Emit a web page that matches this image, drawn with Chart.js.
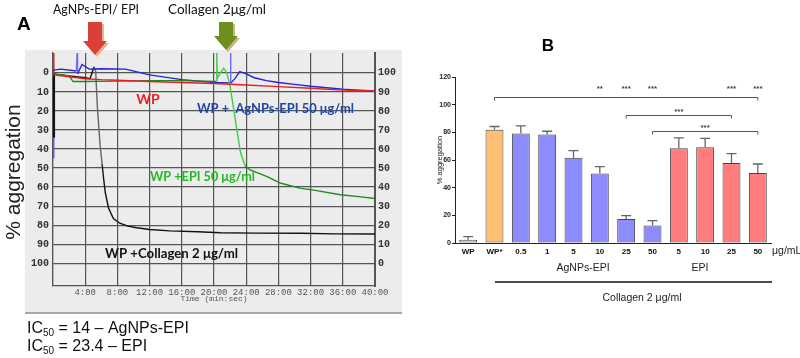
<!DOCTYPE html>
<html>
<head>
<meta charset="utf-8">
<script src="https://cdn.jsdelivr.net/npm/chart.js@4.4.1/dist/chart.umd.min.js"></script>
<style>
  body { margin: 0; width: 800px; height: 358px; background: #fff; position: relative; overflow: hidden; }
  #panelA { position: absolute; left: 25px; top: 50px; width: 377px; height: 262px; background: #ececec; border-bottom: 2px solid #a8a8a8; }
  #chartA { position: absolute; left: 0; top: 0; }
  #chartB { position: absolute; left: 420px; top: 0; }
</style>
</head>
<body>
<div id="panelA"></div>
<canvas id="chartA" width="400" height="358"></canvas>
<canvas id="chartB" width="380" height="358"></canvas>
<script>
// ---- panel A : aggregometer traces (time in min, % aggregation) ----
const wpTime = [0, 2, 4, 6, 8, 12, 16, 20, 24, 28, 32, 36, 40];
const wpAgg = [1, 2, 3, 3.5, 3.8, 4.5, 5, 5.5, 6.3, 7.2, 8, 9, 9.5];

const agTime = [0, 1, 2.9, 3.0, 3.05, 3.6, 4.5, 6, 9, 12, 16, 20, 22.0, 22.05, 22.1, 22.6, 23.2, 24, 25, 26.5, 28, 30, 32, 34, 36, 38, 40];
const agAgg = [-1.5, -2, -1, -11, 0.5, -4.5, -2, -2.2, -2, 1, 3.5, 5, 5.2, -11, 5.2, 3, -0.7, 0.5, 2.5, 4, 5, 6, 7, 7.8, 8.5, 9, 9.5];

const epiTime = [0, 1, 2, 2.5, 3, 4, 8, 12, 16, 20.3, 20.35, 20.4, 20.8, 21.2, 21.6, 22.0, 22.4, 22.9, 23.3, 23.9, 24.5, 26.6, 28.3, 30.8, 32.4, 35.7, 38, 40];
const epiAgg = [0.5, 1, 1.5, 4.5, 4.5, 4.5, 4.3, 4, 4, 4.5, -11, 3, 0, -2.5, 0, 7, 17.7, 31.6, 42, 49, 51, 54.5, 58, 60.7, 61.6, 64, 65, 66];

const colTime = [0, 2, 4, 4.6, 5.1, 5.3, 5.5, 5.85, 6.1, 6.3, 6.5, 6.9, 7.5, 8.3, 9.3, 10.4, 12, 14.5, 18, 20.8, 25, 30.8, 35, 40];
const colAgg = [0.5, 1.5, 2.5, 3, -3.3, -1, 17, 38, 48, 56, 63, 71, 76.5, 79, 80.5, 81.4, 82.3, 83, 83.5, 84, 84.2, 84.3, 84.6, 84.7];

// start-of-recording marks on the left edge
const startTime = [0.1, 0.1];
const startRed = [-11, 0];
const startBlack = [0, 34];
const startBlue = [34, 45];

const aggTicks = [0, 10, 20, 30, 40, 50, 60, 70, 80, 90, 100];

function pts(t, v) { return t.map((x, i) => ({ x: x, y: v[i] })); }

function txt(ctx, s, x, y, font, color, align, maxW) {
    ctx.save();
    ctx.font = font;
    ctx.fillStyle = color;
    ctx.textAlign = align || 'left';
    ctx.textBaseline = 'middle';
    if (maxW) ctx.fillText(s, x, y, maxW); else ctx.fillText(s, x, y);
    ctx.restore();
}

function arrow(ctx, cx, top, tip, fill, shadow) {
    const draw = (dx, dy, c) => {
        ctx.fillStyle = c;
        ctx.beginPath();
        ctx.moveTo(cx - 7 + dx, top + dy);
        ctx.lineTo(cx + 7 + dx, top + dy);
        ctx.lineTo(cx + 7 + dx, tip - 14 + dy);
        ctx.lineTo(cx + 12 + dx, tip - 14 + dy);
        ctx.lineTo(cx + dx, tip + dy);
        ctx.lineTo(cx - 12 + dx, tip - 14 + dy);
        ctx.lineTo(cx - 7 + dx, tip - 14 + dy);
        ctx.closePath();
        ctx.fill();
    };
    ctx.save();
    draw(2, 2, shadow);
    draw(0, 0, fill);
    ctx.restore();
}

const panelALabels = {
    id: 'panelALabels',
    afterDraw(chart) {
        const ctx = chart.ctx;
        txt(ctx, 'A', 17, 25, 'bold 19px "Liberation Sans"', '#000');
        txt(ctx, 'AgNPs-EPI/ EPI', 96, 9, '14px Lato', '#111', 'center', 86);
        txt(ctx, 'Collagen 2μg/ml', 217, 9, '14px Lato', '#111', 'center', 98);
        arrow(ctx, 95, 22, 55, '#d9403a', '#e9b090');
        arrow(ctx, 226, 22, 50, '#6e8e1e', '#c9b58a');

        ctx.save();
        ctx.translate(14, 172);
        ctx.rotate(-Math.PI / 2);
        txt(ctx, '% aggregation', 0, 0, '21px "Liberation Sans"', '#222', 'center', 172);
        ctx.restore();

        txt(ctx, 'WP', 148, 99, 'bold 14px Lato', '#e82222', 'center');
        txt(ctx, 'WP +  AgNPs-EPI 50 μg/ml', 197, 108, 'bold 14px Lato', '#1f47a8', 'left', 157);
        txt(ctx, 'WP +EPI 50 μg/ml', 150, 176, 'bold 14px Lato', '#22bb22', 'left', 105);
        txt(ctx, 'WP +Collagen 2 μg/ml', 105, 253, 'bold 14px Lato', '#111', 'left', 133);

        // IC50 lines
        const ic = (y, rest) => {
            ctx.save();
            ctx.fillStyle = '#111';
            ctx.textBaseline = 'alphabetic';
            ctx.font = '16px "Liberation Sans"';
            ctx.fillText('IC', 27, y);
            let x = 27 + ctx.measureText('IC').width;
            ctx.font = '10px "Liberation Sans"';
            ctx.fillText('50', x, y + 3);
            x += ctx.measureText('50').width;
            ctx.font = '16px "Liberation Sans"';
            ctx.fillText(rest, x, y);
            ctx.restore();
        };
        ic(333, ' = 14 – AgNPs-EPI');
        ic(351, ' = 23.4 – EPI');
    }
};

const monoTick = { family: 'Liberation Mono', size: 9 };

new Chart(document.getElementById('chartA'), {
    type: 'line',
    data: {
        datasets: [
            { data: pts(wpTime, wpAgg), borderColor: '#e82020', borderWidth: 1.4 },
            { data: pts(epiTime, epiAgg), borderColor: '#1f8a1f', borderWidth: 1.4,
              segment: { borderColor: c => (c.p0.parsed.x >= 20.3 && c.p1.parsed.x <= 24) ? '#44cc44' : '#1f8a1f' } },
            { data: pts(agTime, agAgg), borderColor: '#2222dd', borderWidth: 1.4,
              segment: { borderColor: c => (Math.abs(c.p1.parsed.y - c.p0.parsed.y) > 9) ? '#6a6aff' : '#2222dd' } },
            { data: pts(colTime, colAgg), borderColor: '#111', borderWidth: 1.4,
              segment: { borderColor: c => (c.p0.parsed.x >= 5.0 && c.p1.parsed.x <= 6.2) ? '#666' : '#111' } },
            { data: pts(startTime, startRed), borderColor: '#e82020', borderWidth: 1.5 },
            { data: pts(startTime, startBlack), borderColor: '#111', borderWidth: 2.5 },
            { data: pts(startTime, startBlue), borderColor: '#4444ff', borderWidth: 1.2 }
        ]
    },
    options: {
        responsive: false,
        animation: false,
        parsing: false,
        elements: { point: { radius: 0 }, line: { tension: 0 } },
        layout: { padding: { left: 23, right: 0, top: 53, bottom: 54 } },
        plugins: { legend: { display: false }, tooltip: { enabled: false } },
        scales: {
            x: {
                type: 'linear', min: 0, max: 40,
                ticks: { stepSize: 4, color: '#555', font: monoTick, padding: 1, maxRotation: 0,
                         callback: v => v === 0 ? '' : v + ':00' },
                grid: { color: '#555', lineWidth: 1.2, drawTicks: false },
                border: { color: '#555', width: 1.2 },
                title: { display: true, text: 'Time (min:sec)', color: '#555', font: { family: 'Liberation Mono', size: 8 }, padding: 0 },
                afterFit: s => { s.height = 18; }
            },
            y: {
                reverse: true, min: -10.5, max: 112,
                afterBuildTicks: s => { s.ticks = aggTicks.map(v => ({ value: v })); },
                ticks: { color: '#333', font: { family: 'Liberation Mono', size: 10, weight: 'bold' }, padding: 4 },
                grid: { color: '#555', lineWidth: 1.2, drawTicks: false },
                border: { color: '#555', width: 1.2 },
                afterFit: s => { s.width = 30; }
            },
            y2: {
                position: 'right', reverse: true, min: -10.5, max: 112,
                afterBuildTicks: s => { s.ticks = aggTicks.map(v => ({ value: v })); },
                ticks: { color: '#333', font: { family: 'Liberation Mono', size: 10, weight: 'bold' }, padding: 3,
                         callback: v => String(100 - v) },
                grid: { drawOnChartArea: false, drawTicks: false },
                border: { color: '#555', width: 2 },
                afterFit: s => { s.width = 25; }
            }
        }
    },
    plugins: [panelALabels]
});

// ---- panel B : mean % aggregation per treatment ----
const groups = ['WP', 'WP*', '0.5', '1', '5', '10', '25', '50', '5', '10', '25', '50'];
const meanAgg = [2.4, 81.8, 79.2, 78.4, 61.7, 50.3, 17.4, 12.6, 68.5, 69.2, 57.8, 50.6];
const semAgg = [2.2, 2.4, 5.5, 2.4, 5.1, 4.9, 2.4, 3.6, 7.5, 6.5, 6.8, 6.5];
const barFill = ['#f0f0f0', '#ffbf73', '#8c8cff', '#8c8cff', '#8c8cff', '#8c8cff', '#8c8cff', '#8c8cff',
                 '#ff7d7d', '#ff7d7d', '#ff7d7d', '#ff7d7d'];

// significance vs WP* (stars above each bar) and between pairs
const vsWpStars = ['', '', '', '', '', '**', '***', '***', '', '', '***', '***'];
const bracketFrom = [1, 6, 7];
const bracketTo = [11, 10, 11];
const bracketLevel = [105.5, 92.5, 81];
const bracketStars = ['', '***', '***'];

const panelBExtras = {
    id: 'panelBExtras',
    afterDatasetsDraw(chart) {
        const ctx = chart.ctx;
        const xs = chart.scales.x, ys = chart.scales.y;

        ctx.save();
        ctx.strokeStyle = '#666';
        ctx.lineWidth = 1.3;
        meanAgg.forEach((m, i) => {
            const x = xs.getPixelForValue(i);
            const y0 = ys.getPixelForValue(m);
            const y1 = ys.getPixelForValue(m + semAgg[i]);
            ctx.beginPath();
            ctx.moveTo(x, y0); ctx.lineTo(x, y1);
            ctx.moveTo(x - 5, y1); ctx.lineTo(x + 5, y1);
            ctx.stroke();
        });

        ctx.strokeStyle = '#555';
        ctx.lineWidth = 1;
        bracketFrom.forEach((f, k) => {
            const x0 = xs.getPixelForValue(f), x1 = xs.getPixelForValue(bracketTo[k]);
            const y = Math.round(ys.getPixelForValue(bracketLevel[k])) + 0.5;
            ctx.beginPath();
            ctx.moveTo(x0, y + 3); ctx.lineTo(x0, y); ctx.lineTo(x1, y); ctx.lineTo(x1, y + 3);
            ctx.stroke();
            if (bracketStars[k]) txt(ctx, bracketStars[k], (x0 + x1) / 2, y - 4, 'bold 8px "Liberation Sans"', '#444', 'center');
        });
        const yTop = ys.getPixelForValue(bracketLevel[0]);
        vsWpStars.forEach((s, i) => {
            if (s) txt(ctx, s, xs.getPixelForValue(i), yTop - 8, 'bold 8px "Liberation Sans"', '#444', 'center');
        });
        ctx.restore();

        // category labels under the bars
        groups.forEach((g, i) => {
            txt(ctx, g, xs.getPixelForValue(i), ys.bottom + 9, 'bold 8px "Liberation Sans"', '#111', 'center');
        });

        txt(ctx, 'B', 128, 46, 'bold 17px "Liberation Sans"', '#000', 'center');
        txt(ctx, 'μg/mL', 352, 251, '10.5px "Liberation Sans"', '#222', 'left');
        txt(ctx, 'AgNPs-EPI', 163, 268, '10.5px "Liberation Sans"', '#222', 'center');
        txt(ctx, 'EPI', 280, 268, '10.5px "Liberation Sans"', '#222', 'center');
        ctx.save();
        ctx.strokeStyle = '#111';
        ctx.lineWidth = 1.3;
        ctx.beginPath();
        ctx.moveTo(75, 282); ctx.lineTo(352, 282);
        ctx.stroke();
        ctx.restore();
        txt(ctx, 'Collagen 2 μg/ml', 222, 298, '10.5px "Liberation Sans"', '#222', 'center');
    }
};

new Chart(document.getElementById('chartB'), {
    type: 'bar',
    data: {
        labels: groups,
        datasets: [{
            data: meanAgg,
            backgroundColor: barFill,
            borderColor: '#444',
            borderWidth: 1,
            borderSkipped: false,
            barPercentage: 0.68,
            categoryPercentage: 1
        }]
    },
    options: {
        responsive: false,
        animation: false,
        layout: { padding: { left: 15, right: 29, top: 77, bottom: 101 } },
        plugins: { legend: { display: false }, tooltip: { enabled: false } },
        scales: {
            x: {
                ticks: { display: false },
                grid: { display: false },
                border: { color: '#222', width: 1 },
                afterFit: s => { s.height = 14; }
            },
            y: {
                min: 0, max: 120,
                ticks: { stepSize: 20, color: '#222', font: { family: 'Liberation Sans', size: 7, weight: 'bold' }, padding: 1 },
                grid: { drawOnChartArea: false, drawTicks: true, tickLength: 3, color: '#222' },
                border: { color: '#222', width: 1 },
                title: { display: true, text: '% aggregation', color: '#222', font: { family: 'Liberation Sans', size: 7.5 }, padding: 0 },
                afterFit: s => { s.width = 20; }
            }
        }
    },
    plugins: [panelBExtras]
});
</script>
</body>
</html>
